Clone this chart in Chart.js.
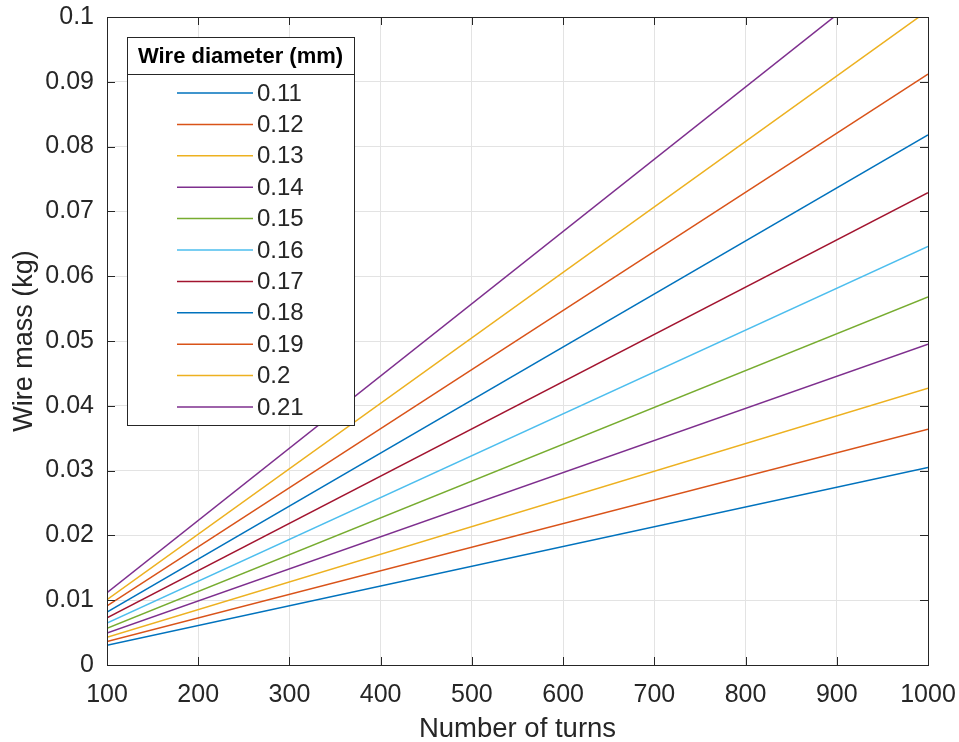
<!DOCTYPE html>
<html>
<head>
<meta charset="utf-8">
<script src="https://cdn.jsdelivr.net/npm/chart.js@4.4.1/dist/chart.umd.min.js"></script>
<style>
  html, body { margin: 0; padding: 0; background: #fff; }
  #wrap { width: 959px; height: 742px; }
</style>
</head>
<body>
<div id="wrap"><canvas id="chart" width="959" height="742"></canvas></div>
<script>
// values
const turns = [100, 1000];
const diameters = ["0.11", "0.12", "0.13", "0.14", "0.15", "0.16", "0.17", "0.18", "0.19", "0.2", "0.21"];
const massAt100 = [0.00305, 0.00364, 0.00427, 0.00495, 0.00568, 0.00646, 0.00729, 0.00818, 0.00912, 0.0101, 0.01115];
const massAt1000 = [0.0305, 0.0364, 0.0427, 0.0495, 0.0568, 0.0646, 0.0729, 0.0818, 0.0912, 0.101, 0.1115];
const lineColors = ["#0072BD", "#D95319", "#EDB120", "#7E2F8E", "#77AC30", "#4DBEEE", "#A2142F"];

const FONT = "'Liberation Sans', Arial, Helvetica, sans-serif";
const AXIS = "#262626";

const datasets = diameters.map((d, i) => ({
  label: d,
  data: [
    { x: turns[0], y: massAt100[i] },
    { x: turns[1], y: massAt1000[i] },
  ],
  borderColor: lineColors[i % lineColors.length],
  borderWidth: 1.5,
  pointRadius: 0,
  fill: false,
}));

// box, inner tick marks and the boxed legend, MATLAB style
const matlabBox = {
  id: "matlabBox",
  afterDraw(chart) {
    const ctx = chart.ctx;
    const a = chart.chartArea;
    const xs = chart.scales.x;
    const ys = chart.scales.y;
    ctx.save();
    ctx.strokeStyle = AXIS;
    ctx.lineWidth = 1;
    ctx.beginPath();
    xs.ticks.forEach((t) => {
      const px = Math.round(xs.getPixelForValue(t.value)) + 0.5;
      ctx.moveTo(px, a.bottom);
      ctx.lineTo(px, a.bottom - 8);
      ctx.moveTo(px, a.top);
      ctx.lineTo(px, a.top + 8);
    });
    ys.ticks.forEach((t) => {
      const py = Math.round(ys.getPixelForValue(t.value)) + 0.5;
      ctx.moveTo(a.left, py);
      ctx.lineTo(a.left + 8, py);
      ctx.moveTo(a.right, py);
      ctx.lineTo(a.right - 8, py);
    });
    ctx.stroke();
    ctx.strokeRect(Math.round(a.left) + 0.5, Math.round(a.top) + 0.5, Math.round(a.right - a.left), Math.round(a.bottom - a.top));

    // legend
    const lx = a.left + 20, ly = a.top + 20, lw = 227, lh = 388, th = 37;
    ctx.fillStyle = "#fff";
    ctx.fillRect(lx, ly, lw, lh);
    ctx.strokeStyle = AXIS;
    ctx.strokeRect(Math.round(lx) + 0.5, Math.round(ly) + 0.5, lw, lh);
    ctx.beginPath();
    ctx.moveTo(lx, Math.round(ly + th) + 0.5);
    ctx.lineTo(lx + lw, Math.round(ly + th) + 0.5);
    ctx.stroke();
    ctx.fillStyle = "#000";
    ctx.font = "bold 22px " + FONT;
    ctx.textAlign = "center";
    ctx.textBaseline = "middle";
    ctx.fillText("Wire diameter (mm)", lx + lw / 2, ly + th / 2 + 1);
    ctx.font = "24px " + FONT;
    ctx.textAlign = "left";
    chart.data.datasets.forEach((ds, i) => {
      const ry = ly + 56 + i * 31.4;
      ctx.strokeStyle = ds.borderColor;
      ctx.lineWidth = 1.5;
      ctx.beginPath();
      ctx.moveTo(lx + 50, ry);
      ctx.lineTo(lx + 126, ry);
      ctx.stroke();
      ctx.fillStyle = AXIS;
      ctx.fillText(ds.label, lx + 130, ry + 1);
    });
    ctx.restore();
  },
};

new Chart(document.getElementById("chart"), {
  type: "line",
  data: { datasets: datasets },
  options: {
    responsive: false,
    animation: false,
    layout: { padding: { top: 17, right: 31, left: 0, bottom: 0 } },
    plugins: {
      legend: { display: false },
      tooltip: { enabled: false },
    },
    scales: {
      x: {
        type: "linear",
        min: 100,
        max: 1000,
        afterFit: (s) => {
          s.height = 77;
          s.paddingLeft = 0;
          s.paddingRight = 0;
        },
        ticks: {
          stepSize: 100,
          color: AXIS,
          padding: 15,
          font: { family: FONT, size: 25 },
          maxRotation: 0,
          callback: (v) => String(v),
        },
        grid: { color: "#e3e3e3", drawTicks: false },
        border: { display: true, color: AXIS },
        title: {
          display: true,
          text: "Number of turns",
          color: AXIS,
          padding: { top: 0, bottom: -4 },
          font: { family: FONT, size: 27.5 },
        },
      },
      y: {
        min: 0,
        max: 0.1,
        afterFit: (s) => {
          s.width = 107;
          s.paddingTop = 0;
          s.paddingBottom = 0;
        },
        ticks: {
          stepSize: 0.01,
          color: AXIS,
          padding: 13,
          font: { family: FONT, size: 25 },
          callback: (v) => String(Number(v.toFixed(2))),
        },
        grid: { color: "#e3e3e3", drawTicks: false },
        border: { display: true, color: AXIS },
        title: {
          display: true,
          text: "Wire mass (kg)",
          color: AXIS,
          padding: { top: 8, bottom: 0 },
          font: { family: FONT, size: 27 },
        },
      },
    },
  },
  plugins: [matlabBox],
});
</script>
</body>
</html>
